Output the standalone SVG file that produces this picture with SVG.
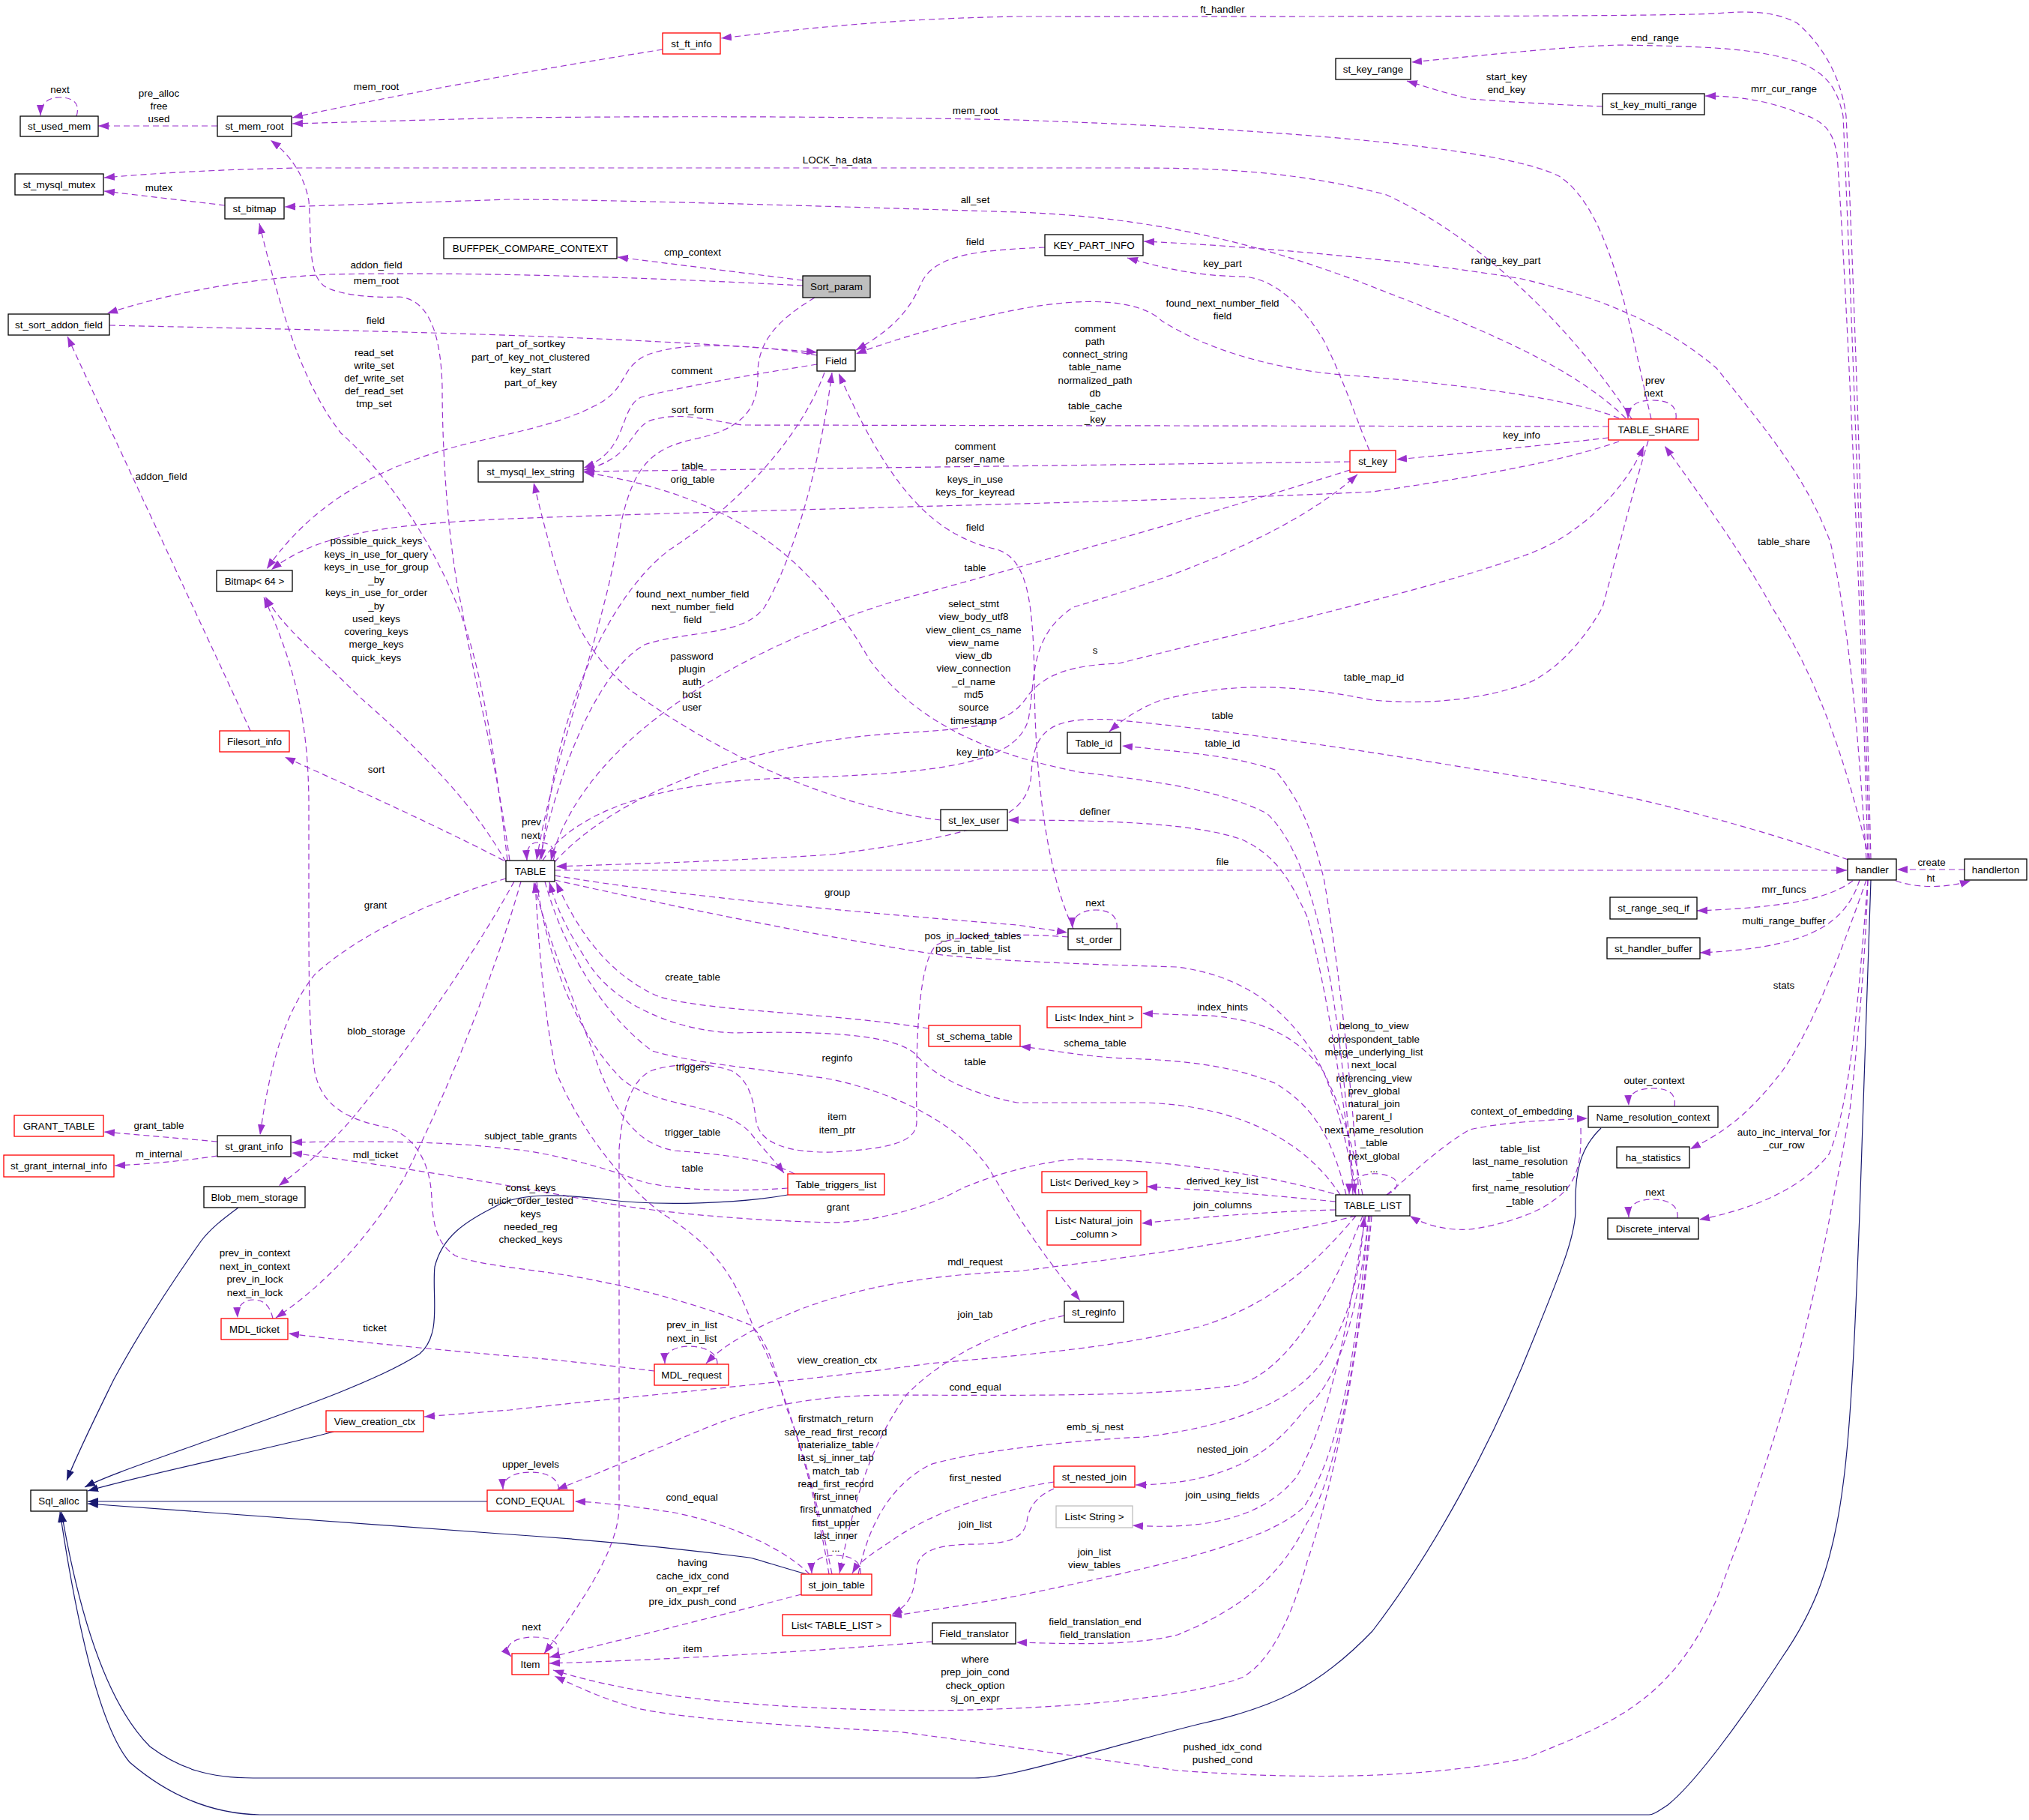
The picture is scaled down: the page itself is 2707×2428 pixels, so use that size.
<svg xmlns="http://www.w3.org/2000/svg" width="2707" height="2428" viewBox="0 0 2707 2428">
<defs>
<marker id="ap" markerUnits="userSpaceOnUse" markerWidth="15" markerHeight="11" refX="14" refY="5" orient="auto" viewBox="0 0 15 10"><path d="M0,0 L14,5 L0,10 z" fill="#9a32cd" stroke="none"/></marker>
<marker id="ab" markerUnits="userSpaceOnUse" markerWidth="15" markerHeight="11" refX="14" refY="5" orient="auto" viewBox="0 0 15 10"><path d="M0,0 L14,5 L0,10 z" fill="#191970" stroke="none"/></marker>
</defs>
<style>
text{font-family:"Liberation Sans",Arial,Helvetica,sans-serif;font-size:13.4px;text-anchor:middle;fill:#000}
.node rect{fill:#fff;stroke:#000;stroke-width:1.3}
.node.r rect{stroke:#ff0000}
.node.g rect{stroke:#bfbfbf}
.node.s rect{fill:#bfbfbf}
.u{fill:none;stroke:#9a32cd;stroke-width:1.2;stroke-dasharray:8 5;marker-end:url(#ap)}
.h{fill:none;stroke:#191970;stroke-width:1.2;marker-end:url(#ab)}
</style>
<rect width="2707" height="2428" fill="#fff"/>
<g id="edges">
<path class="u" d="M102,155 C108,136 95,130 80,130 C64,130 54,138 54,154"/>
<path class="u" d="M290,168 L131,168"/>
<path class="u" d="M884,66 C720,92 520,128 390,157"/>
<path class="u" d="M2203,559 C2175,440 2150,280 2080,235 C2000,195 1700,172 1357,160 C1100,155 900,155 680,157 L390,165"/>
<path class="u" d="M300,274 C250,268 190,261 139,255"/>
<path class="u" d="M2177,559 C2120,470 2000,330 1850,260 C1720,225 1600,224 1500,224 L400,224 C300,226 220,230 139,237"/>
<path class="u" d="M2169,558 C2100,490 1980,440 1850,390 C1700,330 1550,290 1357,283 C1100,275 800,266 680,266 L380,276"/>
<path class="u" d="M1071,374 L824,343"/>
<path class="u" d="M1071,381 C900,372 650,362 440,366 C320,372 220,393 143,418"/>
<path class="u" d="M146,434 C400,440 800,445 1090,470"/>
<path class="u" d="M1090,474 C1000,458 900,455 858,476 C830,492 835,515 805,535 C760,562 700,574 640,588 C520,615 420,665 356,759"/>
<path class="u" d="M1394,330 C1300,334 1245,340 1228,380 C1212,418 1185,443 1142,467"/>
<path class="u" d="M2160,558 C2090,528 1900,508 1790,500 C1680,490 1600,460 1550,428 C1520,400 1450,395 1357,413 C1280,428 1200,450 1142,472"/>
<path class="u" d="M1090,486 C1000,500 900,518 855,530 C825,545 840,600 779,624"/>
<path class="u" d="M2146,569 L990,567 C940,560 905,548 865,562 C838,578 842,612 779,627"/>
<path class="u" d="M1087,397 C1040,425 1010,455 1011,500 C1012,545 990,572 930,585 C865,598 845,625 828,700 C805,850 740,1000 716,1147"/>
<path class="u" d="M1801,616 L779,629"/>
<path class="u" d="M2146,584 C2050,595 1950,605 1863,613"/>
<path class="u" d="M2160,589 C2100,610 2000,632 1831,656 C1600,668 1000,680 680,692 C500,700 420,715 362,760"/>
<path class="u" d="M2236,559 C2238,540 2225,534 2205,534 C2185,534 2172,540 2172,558"/>
<path class="u" d="M2494,1146 C2470,1050 2440,930 2364,810 C2320,730 2260,650 2221,595"/>
<path class="u" d="M740,1150 C820,1060 1000,990 1200,978 C1300,972 1345,968 1370,930 C1395,895 1440,887 1493,885 C1650,845 1900,790 2034,741 C2110,715 2170,650 2193,595"/>
<path class="u" d="M724,1148 C770,1075 900,1042 1050,1038 C1250,1032 1355,1020 1372,960 C1382,905 1372,850 1432,810 C1560,772 1720,715 1811,633"/>
<path class="u" d="M720,1147 C740,1050 790,900 860,860 C920,840 990,850 1020,810 C1050,760 1090,650 1110,497"/>
<path class="u" d="M1100,497 C1070,580 990,670 894,733 C830,780 760,900 733,1068 C728,1100 724,1125 722,1147"/>
<path class="u" d="M1432,1239 C1390,1150 1380,1000 1380,900 C1378,800 1370,745 1330,733 C1250,715 1190,660 1119,498"/>
<path class="u" d="M1801,627 C1600,690 1350,760 1200,800 C1000,860 780,980 735,1148"/>
<path class="u" d="M1255,1094 C1100,1075 950,1000 840,920 C770,860 750,800 712,644"/>
<path class="u" d="M1805,1594 C1790,1350 1760,1150 1690,1085 C1620,1050 1520,1040 1440,1030 C1340,1010 1230,975 1160,880 C1090,760 1000,665 779,630"/>
<path class="u" d="M680,1148 C660,1000 630,900 616,810 C600,740 590,620 590,516 C588,440 570,400 533,396 C490,398 450,392 433,382 C410,365 416,320 412,268 C405,230 385,205 361,187"/>
<path class="u" d="M677,1148 C660,1000 640,880 611,810 C580,730 520,635 455,578 C410,520 380,440 346,298"/>
<path class="u" d="M675,1150 C630,1070 560,1000 480,930 C420,870 380,840 354,796"/>
<path class="u" d="M1110,2100 C1090,2000 1070,1930 1050,1880 C1035,1830 1025,1790 1002,1768 C960,1750 860,1720 807,1711 C740,1695 640,1690 607,1675 C585,1660 578,1640 576,1600 C575,1560 560,1520 520,1505 C470,1495 430,1480 420,1430 C412,1380 412,1300 412,1200 L412,1068 C411,980 400,900 352,797"/>
<path class="u" d="M334,975 C300,900 220,730 90,449"/>
<path class="u" d="M672,1148 C600,1110 480,1055 380,1010"/>
<path class="u" d="M738,1148 C745,1130 730,1122 715,1124 C705,1126 702,1135 703,1148"/>
<path class="u" d="M675,1172 C580,1200 480,1245 420,1300 C380,1350 360,1420 347,1514"/>
<path class="u" d="M686,1176 C640,1260 560,1380 480,1480 C440,1530 400,1560 372,1582"/>
<path class="u" d="M695,1176 C660,1300 600,1450 540,1570 C500,1640 440,1710 368,1758"/>
<path class="u" d="M290,1523 L139,1510"/>
<path class="u" d="M290,1542 C250,1548 200,1553 153,1555"/>
<path class="u" d="M1051,1585 C960,1592 880,1585 850,1574 C800,1555 720,1535 680,1533 C600,1522 480,1522 389,1524"/>
<path class="u" d="M1792,1596 C1700,1569 1570,1548 1440,1546 C1380,1550 1320,1570 1284,1585 C1240,1610 1170,1630 1110,1631 C1000,1628 900,1620 807,1605 C700,1585 560,1560 389,1538"/>
<path class="h" d="M1051,1594 C990,1605 880,1610 807,1600 C740,1592 690,1592 660,1610 C620,1630 590,1650 580,1690 C576,1730 590,1780 560,1806 C500,1845 380,1885 260,1928 C190,1953 140,1970 113,1984"/>
<path class="h" d="M318,1611 C295,1628 280,1640 268,1656 C230,1710 190,1770 152,1840 C130,1885 105,1935 89,1975"/>
<path class="h" d="M445,1910 C350,1935 200,1965 117,1989"/>
<path class="h" d="M650,2003 L117,2003"/>
<path class="h" d="M1076,2100 C1040,2090 1010,2080 1000,2078 C900,2065 800,2055 680,2047 L117,2006"/>
<path class="h" d="M2136,1505 C2110,1530 2100,1560 2102,1618 C2100,1650 2090,1680 2030,1825 C1990,1920 1920,2060 1831,2176 C1760,2250 1700,2278 1600,2300 C1500,2325 1420,2350 1357,2364 C1330,2370 1310,2372 1300,2372 L338,2372 C280,2372 240,2360 200,2330 C150,2280 110,2180 82,2017"/>
<path class="h" d="M2496,1174 C2490,1378 2485,1500 2481,1620 C2476,1750 2470,1900 2459,1980 C2445,2090 2420,2150 2377,2212 C2320,2300 2260,2380 2225,2408 C2210,2418 2205,2421 2200,2421 L347,2421 C290,2420 230,2400 173,2351 C130,2300 100,2150 80,2017"/>
<path class="u" d="M873,1829 C800,1820 700,1810 680,1809 C600,1802 470,1790 385,1779"/>
<path class="u" d="M364,1759 C360,1740 350,1734 338,1734 C325,1734 316,1742 317,1758"/>
<path class="u" d="M957,1820 C958,1805 940,1796 920,1796 C900,1796 886,1804 887,1819"/>
<path class="u" d="M1809,1622 C1700,1650 1530,1675 1357,1696 C1250,1700 1150,1715 1067,1747 C1010,1770 970,1790 942,1819"/>
<path class="u" d="M1809,1622 C1760,1680 1700,1740 1600,1770 C1500,1795 1400,1805 1241,1819 C1050,1845 850,1862 680,1881 L566,1890"/>
<path class="u" d="M1818,1622 C1780,1720 1720,1830 1650,1848 C1550,1862 1400,1862 1200,1861 C1100,1861 1024,1871 937,1907 C870,1935 800,1965 743,1987"/>
<path class="u" d="M746,1988 C745,1972 730,1964 708,1964 C686,1964 670,1972 671,1987"/>
<path class="u" d="M1080,2100 C1040,2060 960,2030 900,2018 C850,2010 800,2004 767,2003"/>
<path class="u" d="M1148,2100 C1150,2083 1135,2075 1115,2075 C1095,2075 1082,2082 1083,2099"/>
<path class="u" d="M1420,1755 C1330,1775 1260,1810 1210,1860 C1160,1930 1140,2000 1120,2099"/>
<path class="u" d="M1406,1977 C1320,1990 1240,2020 1190,2055 C1160,2075 1145,2085 1137,2099"/>
<path class="u" d="M1406,1986 C1385,1995 1372,2010 1370,2030 C1365,2055 1340,2059 1306,2060 C1260,2060 1228,2065 1223,2090 C1220,2125 1215,2140 1190,2154"/>
<path class="u" d="M1826,1622 C1810,1800 1790,1930 1740,2010 C1690,2060 1530,2093 1357,2129 C1300,2140 1240,2148 1189,2156"/>
<path class="u" d="M1826,1622 C1815,1730 1790,1840 1744,1876 C1710,1920 1660,1980 1515,1981"/>
<path class="u" d="M1822,1622 C1800,1750 1780,1880 1730,1970 C1690,2020 1620,2042 1511,2035"/>
<path class="u" d="M1145,2100 C1160,2030 1190,1980 1241,1954 C1300,1935 1450,1920 1527,1917 C1620,1905 1720,1880 1766,1814 C1800,1760 1815,1700 1820,1623"/>
<path class="u" d="M1828,1622 C1815,1800 1780,1980 1744,2031 C1710,2100 1660,2145 1571,2181 C1510,2196 1430,2193 1356,2191"/>
<path class="u" d="M1244,2190 C1067,2204 894,2214 733,2219"/>
<path class="u" d="M1069,2127 C950,2158 820,2190 733,2211"/>
<path class="u" d="M1830,1622 C1815,1800 1780,1980 1744,2083 C1720,2170 1690,2220 1657,2238 C1600,2260 1450,2280 1241,2282 C1000,2280 850,2263 738,2228"/>
<path class="u" d="M2492,1174 C2488,1300 2475,1420 2468,1481 C2455,1560 2445,1600 2440,1630 C2410,1780 2380,1900 2290,2134 C2230,2270 2150,2300 2034,2346 C1900,2372 1750,2375 1571,2362 C1450,2345 1350,2330 1197,2310 C1000,2300 900,2290 850,2279 C800,2265 770,2250 740,2236"/>
<path class="u" d="M744,2206 C748,2190 735,2184 712,2184 C688,2184 668,2195 682,2210"/>
<path class="u" d="M1425,1250 C1380,1246 1270,1244 1248,1262 C1222,1290 1222,1420 1223,1497 C1222,1520 1200,1532 1110,1537 C1050,1538 1015,1525 1009,1497 C1006,1470 1000,1440 975,1428 C945,1418 900,1418 870,1428 C842,1440 830,1480 826,1533 L826,2010 C825,2060 790,2120 726,2206"/>
<path class="u" d="M716,1176 C730,1280 770,1380 830,1440 C880,1480 960,1470 1000,1510 C1020,1535 1035,1550 1046,1565"/>
<path class="u" d="M1060,1566 C1020,1545 960,1540 900,1535 C840,1525 815,1470 790,1400 C760,1320 730,1250 712,1177"/>
<path class="u" d="M1239,1372 C1100,1350 950,1350 880,1330 C810,1300 770,1240 742,1177"/>
<path class="u" d="M1788,1594 C1740,1520 1650,1475 1527,1471 L1357,1471 C1300,1460 1250,1440 1220,1405 C1190,1380 1100,1375 980,1378 C900,1375 820,1340 785,1285 C760,1245 745,1220 733,1177"/>
<path class="u" d="M727,1176 C750,1260 800,1350 870,1402 C930,1420 1050,1430 1110,1440 C1200,1460 1280,1500 1320,1560 C1350,1610 1380,1660 1441,1735"/>
<path class="u" d="M1106,2100 C1090,2000 1050,1850 1006,1773 C980,1700 950,1660 885,1620 C830,1580 770,1500 742,1430 C725,1350 718,1250 714,1177"/>
<path class="u" d="M740,1161 L2464,1161"/>
<path class="u" d="M2466,1147 C2300,1090 2150,1055 2034,1037 C1900,1015 1700,980 1484,960 C1400,956 1380,975 1376,1030 C1374,1090 1320,1112 1110,1140 C950,1150 850,1152 742,1156"/>
<path class="u" d="M740,1168 C900,1195 1150,1218 1357,1234 L1424,1244"/>
<path class="u" d="M740,1174 C900,1210 1100,1250 1241,1272 C1300,1280 1400,1285 1570,1290 C1650,1300 1720,1340 1766,1430 C1790,1490 1800,1540 1808,1593"/>
<path class="u" d="M1490,1239 C1492,1222 1480,1214 1462,1214 C1444,1214 1430,1222 1431,1238"/>
<path class="u" d="M1809,1594 C1790,1450 1770,1320 1744,1223 C1720,1170 1700,1140 1657,1120 C1600,1100 1500,1094 1345,1094"/>
<path class="u" d="M1813,1594 C1800,1400 1780,1250 1766,1171 C1750,1110 1740,1075 1701,1027 C1650,1010 1600,1005 1497,995"/>
<path class="u" d="M2199,588 C2180,650 2160,730 2138,810 C2110,860 2070,900 2034,913 C1970,935 1900,940 1831,934 C1750,918 1660,905 1549,934 C1520,945 1500,958 1480,976"/>
<path class="u" d="M1818,1594 C1800,1500 1780,1460 1766,1430 C1730,1380 1680,1360 1614,1355 L1524,1352"/>
<path class="u" d="M1796,1594 C1780,1530 1760,1480 1701,1445 C1640,1420 1570,1414 1500,1412 C1440,1409 1400,1400 1361,1396"/>
<path class="u" d="M1782,1603 C1700,1595 1620,1588 1530,1583"/>
<path class="u" d="M1782,1614 C1700,1616 1620,1622 1523,1632"/>
<path class="u" d="M1850,1594 C1870,1585 1870,1570 1840,1566 C1815,1564 1800,1575 1800,1593"/>
<path class="u" d="M1850,1594 C1880,1570 1920,1530 1961,1507 C2000,1498 2060,1494 2118,1492"/>
<path class="u" d="M2109,1505 C2110,1550 2105,1580 2073,1601 C2050,1620 2000,1635 1961,1640 C1930,1642 1900,1634 1881,1622"/>
<path class="u" d="M2234,1476 C2237,1458 2225,1452 2205,1452 C2185,1452 2172,1458 2173,1475"/>
<path class="u" d="M2529,1175 C2560,1186 2600,1184 2629,1175"/>
<path class="u" d="M2621,1160 L2531,1160"/>
<path class="u" d="M2472,1175 C2445,1195 2400,1210 2264,1215"/>
<path class="u" d="M2481,1174 C2460,1240 2400,1265 2268,1271"/>
<path class="u" d="M2490,1174 C2460,1260 2420,1370 2377,1430 C2330,1490 2300,1510 2255,1533"/>
<path class="u" d="M2492,1174 C2480,1320 2470,1470 2440,1540 C2400,1590 2330,1615 2267,1627"/>
<path class="u" d="M2238,1625 C2240,1608 2225,1600 2205,1600 C2185,1600 2172,1607 2173,1624"/>
<path class="u" d="M2496,1146 C2490,900 2475,400 2463,155 C2455,90 2420,50 2398,31 C2370,15 2330,14 2290,18 C2200,23 1500,22 1357,22 C1200,25 1100,35 962,51"/>
<path class="u" d="M2494,1146 C2488,900 2470,400 2459,155 C2450,110 2430,95 2398,82 C2340,65 2290,62 2160,60 C2100,62 2034,68 1883,83"/>
<path class="u" d="M2492,1146 C2486,900 2465,400 2451,207 C2445,170 2430,160 2398,150 C2360,135 2320,128 2275,128"/>
<path class="u" d="M2490,1146 C2480,1000 2470,850 2442,723 C2410,640 2370,590 2290,491 C2230,440 2150,400 2030,372 C1900,350 1700,330 1526,322"/>
<path class="u" d="M1827,601 C1810,560 1790,500 1766,454 C1740,410 1700,370 1657,369 C1600,368 1560,360 1504,344"/>
<path class="u" d="M2138,142 C2080,140 2000,135 1962,132 C1930,125 1900,115 1877,108"/>
</g>
<g id="edge-labels">
<text x="80" y="124">next</text>
<text x="212" y="129">pre_alloc</text><text x="212" y="146">free</text><text x="212" y="163">used</text>
<text x="502" y="120">mem_root</text>
<text x="1301" y="152">mem_root</text>
<text x="1117" y="218">LOCK_ha_data</text>
<text x="212" y="255">mutex</text>
<text x="1301" y="271">all_set</text>
<text x="924" y="341">cmp_context</text>
<text x="1301" y="327">field</text>
<text x="1631" y="356">key_part</text>
<text x="2009" y="352">range_key_part</text>
<text x="1631" y="17">ft_handler</text>
<text x="2208" y="55">end_range</text>
<text x="2010" y="107">start_key</text><text x="2010" y="124">end_key</text>
<text x="2380" y="123">mrr_cur_range</text>
<text x="502" y="358">addon_field</text>
<text x="502" y="379">mem_root</text>
<text x="501" y="432">field</text>
<text x="1631" y="409">found_next_number_field</text><text x="1631" y="426">field</text>
<text x="1461" y="443">comment</text><text x="1461" y="460">path</text><text x="1461" y="477">connect_string</text><text x="1461" y="494">table_name</text><text x="1461" y="512">normalized_path</text><text x="1461" y="529">db</text><text x="1461" y="546">table_cache</text><text x="1461" y="564">_key</text>
<text x="499" y="475">read_set</text><text x="499" y="492">write_set</text><text x="499" y="509">def_write_set</text><text x="499" y="526">def_read_set</text><text x="499" y="543">tmp_set</text>
<text x="708" y="463">part_of_sortkey</text><text x="708" y="481">part_of_key_not_clustered</text><text x="708" y="498">key_start</text><text x="708" y="515">part_of_key</text>
<text x="923" y="499">comment</text>
<text x="924" y="551">sort_form</text>
<text x="2208" y="512">prev</text><text x="2206" y="529">next</text>
<text x="2030" y="585">key_info</text>
<text x="1301" y="600">comment</text><text x="1301" y="617">parser_name</text>
<text x="924" y="626">table</text><text x="924" y="644">orig_table</text>
<text x="1301" y="644">keys_in_use</text><text x="1301" y="661">keys_for_keyread</text>
<text x="215" y="640">addon_field</text>
<text x="1301" y="708">field</text>
<text x="2380" y="727">table_share</text>
<text x="502" y="726">possible_quick_keys</text><text x="502" y="744">keys_in_use_for_query</text><text x="502" y="761">keys_in_use_for_group</text><text x="502" y="778">_by</text><text x="502" y="795">keys_in_use_for_order</text><text x="502" y="813">_by</text><text x="502" y="830">used_keys</text><text x="502" y="847">covering_keys</text><text x="502" y="864">merge_keys</text><text x="502" y="882">quick_keys</text>
<text x="1301" y="762">table</text>
<text x="924" y="797">found_next_number_field</text><text x="924" y="814">next_number_field</text><text x="924" y="831">field</text>
<text x="1299" y="810">select_stmt</text><text x="1299" y="827">view_body_utf8</text><text x="1299" y="845">view_client_cs_name</text><text x="1299" y="862">view_name</text><text x="1299" y="879">view_db</text><text x="1299" y="896">view_connection</text><text x="1299" y="914">_cl_name</text><text x="1299" y="931">md5</text><text x="1299" y="948">source</text><text x="1299" y="966">timestamp</text>
<text x="923" y="880">password</text><text x="923" y="897">plugin</text><text x="923" y="914">auth</text><text x="923" y="931">host</text><text x="923" y="948">user</text>
<text x="1461" y="872">s</text>
<text x="1833" y="908">table_map_id</text>
<text x="1631" y="959">table</text>
<text x="1631" y="996">table_id</text>
<text x="1301" y="1008">key_info</text>
<text x="502" y="1031">sort</text>
<text x="1461" y="1087">definer</text>
<text x="709" y="1101">prev</text><text x="708" y="1119">next</text>
<text x="1631" y="1154">file</text>
<text x="2577" y="1155">create</text><text x="2576" y="1176">ht</text>
<text x="2380" y="1191">mrr_funcs</text>
<text x="1117" y="1195">group</text>
<text x="1461" y="1209">next</text>
<text x="501" y="1212">grant</text>
<text x="2380" y="1233">multi_range_buffer</text>
<text x="1298" y="1253">pos_in_locked_tables</text><text x="1298" y="1270">pos_in_table_list</text>
<text x="924" y="1308">create_table</text>
<text x="2380" y="1319">stats</text>
<text x="1631" y="1348">index_hints</text>
<text x="1833" y="1373">belong_to_view</text><text x="1833" y="1391">correspondent_table</text><text x="1833" y="1408">merge_underlying_list</text><text x="1833" y="1425">next_local</text><text x="1833" y="1443">referencing_view</text><text x="1833" y="1460">prev_global</text><text x="1833" y="1477">natural_join</text><text x="1833" y="1494">parent_l</text><text x="1833" y="1512">next_name_resolution</text><text x="1833" y="1529">_table</text><text x="1833" y="1547">next_global</text><text x="1833" y="1564">...</text>
<text x="502" y="1380">blob_storage</text>
<text x="1461" y="1396">schema_table</text>
<text x="1117" y="1416">reginfo</text>
<text x="1301" y="1421">table</text>
<text x="924" y="1428">triggers</text>
<text x="2207" y="1446">outer_context</text>
<text x="2030" y="1487">context_of_embedding</text>
<text x="1117" y="1494">item</text><text x="1117" y="1512">item_ptr</text>
<text x="212" y="1506">grant_table</text>
<text x="924" y="1515">trigger_table</text>
<text x="2380" y="1515">auto_inc_interval_for</text><text x="2380" y="1532">_cur_row</text>
<text x="708" y="1520">subject_table_grants</text>
<text x="2028" y="1537">table_list</text><text x="2028" y="1554">last_name_resolution</text><text x="2028" y="1572">_table</text><text x="2028" y="1589">first_name_resolution</text><text x="2028" y="1607">_table</text>
<text x="212" y="1544">m_internal</text>
<text x="501" y="1545">mdl_ticket</text>
<text x="924" y="1563">table</text>
<text x="1631" y="1580">derived_key_list</text>
<text x="708" y="1589">const_keys</text><text x="708" y="1606">quick_order_tested</text><text x="708" y="1624">keys</text><text x="708" y="1641">needed_reg</text><text x="708" y="1658">checked_keys</text>
<text x="2208" y="1595">next</text>
<text x="1631" y="1612">join_columns</text>
<text x="1118" y="1615">grant</text>
<text x="340" y="1676">prev_in_context</text><text x="340" y="1694">next_in_context</text><text x="340" y="1711">prev_in_lock</text><text x="340" y="1729">next_in_lock</text>
<text x="1301" y="1688">mdl_request</text>
<text x="1301" y="1758">join_tab</text>
<text x="923" y="1772">prev_in_list</text><text x="923" y="1790">next_in_list</text>
<text x="500" y="1776">ticket</text>
<text x="1117" y="1819">view_creation_ctx</text>
<text x="1301" y="1855">cond_equal</text>
<text x="1115" y="1897">firstmatch_return</text><text x="1115" y="1915">save_read_first_record</text><text x="1115" y="1932">materialize_table</text><text x="1115" y="1949">last_sj_inner_tab</text><text x="1115" y="1967">match_tab</text><text x="1115" y="1984">read_first_record</text><text x="1115" y="2001">first_inner</text><text x="1115" y="2018">first_unmatched</text><text x="1115" y="2036">first_upper</text><text x="1115" y="2053">last_inner</text><text x="1115" y="2070">...</text>
<text x="1461" y="1908">emb_sj_nest</text>
<text x="1631" y="1938">nested_join</text>
<text x="708" y="1958">upper_levels</text>
<text x="1301" y="1976">first_nested</text>
<text x="1631" y="1999">join_using_fields</text>
<text x="923" y="2002">cond_equal</text>
<text x="1301" y="2038">join_list</text>
<text x="1460" y="2075">join_list</text><text x="1460" y="2092">view_tables</text>
<text x="924" y="2089">having</text><text x="924" y="2107">cache_idx_cond</text><text x="924" y="2124">on_expr_ref</text><text x="924" y="2141">pre_idx_push_cond</text>
<text x="1461" y="2168">field_translation_end</text><text x="1461" y="2185">field_translation</text>
<text x="709" y="2175">next</text>
<text x="924" y="2204">item</text>
<text x="1301" y="2218">where</text><text x="1301" y="2235">prep_join_cond</text><text x="1301" y="2253">check_option</text><text x="1301" y="2270">sj_on_expr</text>
<text x="1631" y="2335">pushed_idx_cond</text><text x="1631" y="2352">pushed_cond</text>
</g>
<g id="n_st_used_mem" class="node"><rect x="27" y="155" width="104" height="27"/><text x="79" y="173">st_used_mem</text></g>
<g id="n_st_mem_root" class="node"><rect x="290" y="155" width="99" height="27"/><text x="339.5" y="173">st_mem_root</text></g>
<g id="n_st_mysql_mutex" class="node"><rect x="20" y="232" width="118" height="28"/><text x="79" y="250.5">st_mysql_mutex</text></g>
<g id="n_st_bitmap" class="node"><rect x="300" y="264" width="79" height="28"/><text x="339.5" y="282.5">st_bitmap</text></g>
<g id="n_buffpek" class="node"><rect x="592" y="317" width="231" height="28"/><text x="707.5" y="335.5">BUFFPEK_COMPARE_CONTEXT</text></g>
<g id="n_st_sort_addon_field" class="node"><rect x="11" y="419" width="135" height="28"/><text x="78.5" y="437.5">st_sort_addon_field</text></g>
<g id="n_bitmap64" class="node"><rect x="289" y="761" width="101" height="28"/><text x="339.5" y="779.5">Bitmap&lt; 64 &gt;</text></g>
<g id="n_st_mysql_lex_string" class="node"><rect x="638" y="615" width="140" height="28"/><text x="708" y="633.5">st_mysql_lex_string</text></g>
<g id="n_st_ft_info" class="node r"><rect x="884" y="44" width="77" height="28"/><text x="922.5" y="62.5">st_ft_info</text></g>
<g id="n_sort_param" class="node s"><rect x="1071" y="368" width="90" height="29"/><text x="1116" y="387">Sort_param</text></g>
<g id="n_field" class="node"><rect x="1090" y="467" width="51" height="28"/><text x="1115.5" y="485.5">Field</text></g>
<g id="n_st_key_range" class="node"><rect x="1782" y="78" width="100" height="28"/><text x="1832" y="96.5">st_key_range</text></g>
<g id="n_key_part_info" class="node"><rect x="1394" y="313" width="131" height="28"/><text x="1459.5" y="331.5">KEY_PART_INFO</text></g>
<g id="n_st_key" class="node r"><rect x="1801" y="601" width="61" height="29"/><text x="1831.5" y="620">st_key</text></g>
<g id="n_st_key_multi_range" class="node"><rect x="2138" y="125" width="136" height="28"/><text x="2206" y="143.5">st_key_multi_range</text></g>
<g id="n_table_share" class="node r"><rect x="2146" y="559" width="120" height="28"/><text x="2206" y="577.5">TABLE_SHARE</text></g>
<g id="n_filesort_info" class="node r"><rect x="293" y="975" width="93" height="28"/><text x="339.5" y="993.5">Filesort_info</text></g>
<g id="n_table" class="node"><rect x="675" y="1148" width="65" height="28"/><text x="707.5" y="1166.5">TABLE</text></g>
<g id="n_grant_table" class="node r"><rect x="19" y="1488" width="119" height="28"/><text x="78.5" y="1506.5">GRANT_TABLE</text></g>
<g id="n_st_grant_info" class="node"><rect x="290" y="1515" width="98" height="28"/><text x="339" y="1533.5">st_grant_info</text></g>
<g id="n_st_grant_internal_info" class="node r"><rect x="5" y="1541" width="147" height="29"/><text x="78.5" y="1560">st_grant_internal_info</text></g>
<g id="n_blob_mem_storage" class="node"><rect x="272" y="1583" width="135" height="28"/><text x="339.5" y="1601.5">Blob_mem_storage</text></g>
<g id="n_st_lex_user" class="node"><rect x="1255" y="1080" width="89" height="28"/><text x="1299.5" y="1098.5">st_lex_user</text></g>
<g id="n_st_schema_table" class="node r"><rect x="1239" y="1368" width="122" height="28"/><text x="1300" y="1386.5">st_schema_table</text></g>
<g id="n_table_triggers_list" class="node r"><rect x="1051" y="1566" width="129" height="28"/><text x="1115.5" y="1584.5">Table_triggers_list</text></g>
<g id="n_table_id" class="node"><rect x="1424" y="977" width="71" height="28"/><text x="1459.5" y="995.5">Table_id</text></g>
<g id="n_st_order" class="node"><rect x="1425" y="1239" width="70" height="28"/><text x="1460" y="1257.5">st_order</text></g>
<g id="n_list_index_hint" class="node r"><rect x="1397" y="1343" width="126" height="28"/><text x="1460" y="1361.5">List&lt; Index_hint &gt;</text></g>
<g id="n_list_derived_key" class="node r"><rect x="1390" y="1563" width="140" height="28"/><text x="1460" y="1581.5">List&lt; Derived_key &gt;</text></g>
<g id="n_table_list" class="node"><rect x="1782" y="1594" width="99" height="28"/><text x="1831.5" y="1612.5">TABLE_LIST</text></g>
<g id="n_list_natural_join_column" class="node r"><rect x="1397" y="1615" width="125" height="46"/><text x="1459.5" y="1633">List&lt; Natural_join</text><text x="1459.5" y="1651">_column &gt;</text></g>
<g id="n_handler" class="node"><rect x="2465" y="1146" width="65" height="28"/><text x="2497.5" y="1164.5">handler</text></g>
<g id="n_handlerton" class="node"><rect x="2621" y="1146" width="83" height="28"/><text x="2662.5" y="1164.5">handlerton</text></g>
<g id="n_st_range_seq_if" class="node"><rect x="2148" y="1197" width="116" height="29"/><text x="2206" y="1216">st_range_seq_if</text></g>
<g id="n_st_handler_buffer" class="node"><rect x="2144" y="1251" width="124" height="28"/><text x="2206" y="1269.5">st_handler_buffer</text></g>
<g id="n_name_resolution_context" class="node"><rect x="2119" y="1476" width="173" height="28"/><text x="2205.5" y="1494.5">Name_resolution_context</text></g>
<g id="n_ha_statistics" class="node"><rect x="2157" y="1530" width="97" height="28"/><text x="2205.5" y="1548.5">ha_statistics</text></g>
<g id="n_discrete_interval" class="node"><rect x="2145" y="1625" width="121" height="28"/><text x="2205.5" y="1643.5">Discrete_interval</text></g>
<g id="n_mdl_ticket" class="node r"><rect x="295" y="1759" width="89" height="28"/><text x="339.5" y="1777.5">MDL_ticket</text></g>
<g id="n_view_creation_ctx" class="node r"><rect x="435" y="1882" width="130" height="28"/><text x="500" y="1900.5">View_creation_ctx</text></g>
<g id="n_sql_alloc" class="node"><rect x="41" y="1988" width="75" height="28"/><text x="78.5" y="2006.5">Sql_alloc</text></g>
<g id="n_cond_equal" class="node r"><rect x="650" y="1988" width="115" height="28"/><text x="707.5" y="2006.5">COND_EQUAL</text></g>
<g id="n_mdl_request" class="node r"><rect x="873" y="1820" width="99" height="28"/><text x="922.5" y="1838.5">MDL_request</text></g>
<g id="n_st_join_table" class="node r"><rect x="1069" y="2100" width="94" height="28"/><text x="1116" y="2118.5">st_join_table</text></g>
<g id="n_list_table_list" class="node r"><rect x="1044" y="2154" width="144" height="28"/><text x="1116" y="2172.5">List&lt; TABLE_LIST &gt;</text></g>
<g id="n_field_translator" class="node"><rect x="1244" y="2165" width="111" height="28"/><text x="1299.5" y="2183.5">Field_translator</text></g>
<g id="n_item" class="node r"><rect x="683" y="2206" width="49" height="28"/><text x="707.5" y="2224.5">Item</text></g>
<g id="n_st_reginfo" class="node"><rect x="1420" y="1736" width="79" height="28"/><text x="1459.5" y="1754.5">st_reginfo</text></g>
<g id="n_st_nested_join" class="node r"><rect x="1406" y="1956" width="108" height="28"/><text x="1460" y="1974.5">st_nested_join</text></g>
<g id="n_list_string" class="node g"><rect x="1409" y="2009" width="102" height="29"/><text x="1460" y="2028">List&lt; String &gt;</text></g>
</svg>
